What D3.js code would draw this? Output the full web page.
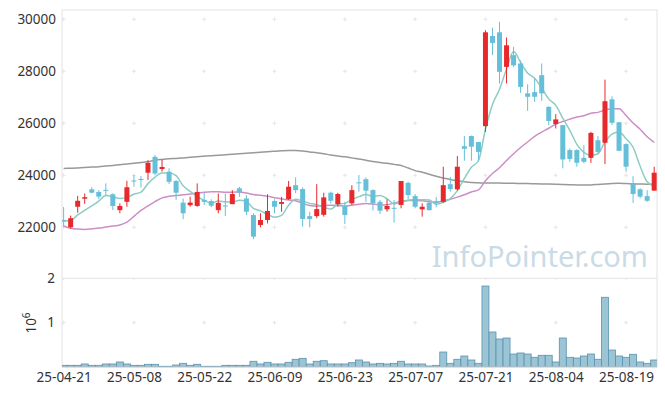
<!DOCTYPE html>
<html>
<head>
<meta charset="utf-8">
<script src="https://cdn.jsdelivr.net/npm/d3@7"></script>
<style>
  body { margin: 0; background: #fff; }
  svg { display: block; font-family: "Noto Sans", "Open Sans", sans-serif; }
</style>
</head>
<body>
<div id="chart"></div>
<script>
const width = 665,
  height = 396;

// trading days
const dates = ["25-04-21","25-04-22","25-04-23","25-04-24","25-04-25","25-04-28","25-04-29","25-04-30","25-05-02","25-05-07",
  "25-05-08","25-05-09","25-05-12","25-05-13","25-05-14","25-05-15","25-05-16","25-05-19","25-05-20","25-05-21",
  "25-05-22","25-05-23","25-05-26","25-05-27","25-05-28","25-05-29","25-05-30","25-06-02","25-06-04","25-06-05",
  "25-06-09","25-06-10","25-06-11","25-06-12","25-06-13","25-06-16","25-06-17","25-06-18","25-06-19","25-06-20",
  "25-06-23","25-06-24","25-06-25","25-06-26","25-06-27","25-06-30","25-07-01","25-07-02","25-07-03","25-07-04",
  "25-07-07","25-07-08","25-07-09","25-07-10","25-07-11","25-07-14","25-07-15","25-07-16","25-07-17","25-07-18",
  "25-07-21","25-07-22","25-07-23","25-07-24","25-07-25","25-07-28","25-07-29","25-07-30","25-07-31","25-08-01",
  "25-08-04","25-08-05","25-08-06","25-08-07","25-08-08","25-08-11","25-08-12","25-08-13","25-08-14","25-08-18",
  "25-08-19","25-08-20","25-08-21","25-08-22","25-08-25"];

const open = [22280,22000,22790,23100,23460,23360,23440,23270,22660,22980,
  23800,23860,24100,24710,24240,24140,23780,22950,22850,22820,
  23050,23010,22660,22840,22890,23500,23110,22470,22090,22280,
  23010,22900,23080,23620,23470,22430,22430,22480,23330,22890,
  22820,22920,23730,23850,23430,22980,22690,22750,22860,23710,
  23200,22690,22940,23000,22980,23660,23460,25120,25510,25280,
  25890,29360,29500,28170,28620,28300,27150,27200,27850,26630,
  25970,25930,24970,24970,24670,24670,25350,25250,26920,26040,
  25200,23690,23460,23200,23410];

const high = [22780,22450,23210,23300,23540,23430,23690,23310,22920,23790,
  24010,23970,24580,24780,24610,24270,23820,23110,23180,23690,
  23320,23080,23300,23300,23430,23560,23240,22540,22540,23270,
  23080,23170,23780,23920,23540,22600,23660,23330,23370,23330,
  22980,23620,24010,23920,23460,23050,23080,23050,23780,23750,
  23280,22920,22980,23170,24330,23940,24740,25510,25530,25290,
  29580,29680,29900,29300,28940,28420,27500,27720,28300,26660,
  26350,25930,25030,25000,25160,25670,25510,27680,27040,26050,
  25230,23970,23500,23430,24330];

const low = [22010,21950,22560,22900,23310,23080,23240,22660,22540,22790,
  23560,23530,23820,24000,24140,23660,23050,22310,22790,22790,
  22860,22770,22540,22430,22890,23170,22470,21540,22000,22150,
  22540,22600,23050,23310,22020,22000,22350,22410,22920,22790,
  22130,22860,23370,22980,22640,22510,22600,22180,22730,23080,
  22730,22410,22640,22770,22940,23370,23410,24560,24560,24560,
  25670,28620,27530,27530,28170,27170,26480,26820,26860,25930,
  25800,24270,24520,24330,24460,24480,24840,24430,25930,24940,
  24140,22940,23110,22980,23410];

const close = [22220,22350,23020,23160,23330,23180,23400,22820,22820,23540,
  23760,23820,24480,24070,24320,23750,23330,22540,22950,23360,
  22980,22830,22940,22800,23280,23330,22600,21640,22280,22630,
  22790,22970,23560,23430,22320,22320,22700,23150,23020,23280,
  22470,23430,23700,23410,22920,22640,22820,22710,23780,23240,
  22790,22790,22660,22950,23620,23470,24330,25020,25100,24900,
  29500,29090,27980,29000,28230,27400,27020,27020,27150,26090,
  26150,24610,24630,24480,24520,25630,24900,26850,26020,24940,
  24330,23280,23180,23020,24100];

const volume = [38000,38000,38000,68000,38000,38000,68000,68000,113000,68000,
  38000,38000,61000,61000,16000,16000,45000,83000,38000,61000,
  16000,16000,16000,38000,38000,38000,38000,129000,68000,106000,
  68000,68000,106000,174000,196000,68000,129000,142000,68000,68000,
  68000,97000,158000,113000,68000,83000,68000,83000,129000,68000,
  68000,68000,23000,38000,338000,83000,174000,248000,158000,83000,
  1826000,789000,631000,654000,293000,316000,293000,219000,264000,264000,
  113000,654000,219000,203000,248000,293000,174000,1572000,383000,248000,
  219000,286000,113000,83000,158000];

// moving averages as shown on the chart
const ma5 = [22250,22260,22480,22650,22820,23010,23220,23180,23110,23150,
  23270,23350,23680,23930,24090,24090,23990,23600,23380,23190,
  23030,22930,23010,22980,22970,23040,22990,22730,22630,22500,
  22390,22460,22850,23080,23010,22920,22870,22780,22700,22890,
  22920,23070,23180,23260,23190,23220,23100,22900,22970,23040,
  23070,23060,23050,22890,22960,23100,23410,23880,24310,24560,
  25770,26720,27310,28090,28760,28340,27930,27730,27360,26940,
  26690,26200,25730,25190,24880,24770,24830,25280,25580,25670,
  25410,25080,24350,23750,23580];

const ma20 = [22050,21960,21930,21920,21940,21970,22010,22050,22090,22200,
  22420,22650,22820,22990,23130,23190,23220,23250,23280,23310,
  23350,23370,23370,23350,23350,23360,23320,23260,23230,23190,
  23140,23090,23050,23020,22920,22840,22810,22840,22850,22840,
  22820,22850,22890,22920,22900,22860,22870,22930,23000,23030,
  23030,23020,22980,22960,23020,23080,23160,23250,23360,23440,
  23790,24070,24290,24570,24830,25070,25280,25500,25660,25810,
  25970,26070,26160,26240,26290,26390,26420,26510,26560,26560,
  26300,26010,25770,25480,25270];

const ma120 = [24265,24275,24285,24300,24315,24330,24355,24380,24405,24430,
  24460,24495,24530,24580,24610,24635,24650,24670,24690,24715,
  24735,24755,24770,24790,24810,24830,24850,24870,24890,24910,
  24925,24940,24950,24950,24935,24900,24870,24830,24780,24740,
  24710,24670,24630,24580,24530,24490,24460,24420,24380,24280,
  24180,24120,24040,23960,23900,23840,23790,23750,23720,23710,
  23700,23700,23700,23695,23690,23685,23680,23675,23670,23665,
  23660,23650,23640,23630,23625,23630,23650,23670,23685,23690,
  23680,23670,23665,23660,23660];

const priceTicks = [22000, 24000, 26000, 28000, 30000];
const volTicks = [1e6, 2e6];
const dateTicks = [0, 10, 20, 30, 40, 50, 60, 70, 80];

const mLeft = 62, mRight = 657, mTop = 10, mSplit = 278.3, mBottom = 367;

const x = d3.scaleLinear().domain([-0.23, 84.4]).range([mLeft, mRight]);
const y = d3.scaleLinear().domain([22000, 30000]).range([227.3, 19.3]);
const yv = d3.scaleLinear().domain([0, 2e6]).range([mBottom, mSplit]);

const svg = d3.select("#chart").append("svg")
  .attr("width", width)
  .attr("height", height);

svg.append("defs").append("clipPath").attr("id", "clip")
  .append("rect").attr("x", mLeft).attr("y", mTop).attr("width", mRight - mLeft).attr("height", mBottom - mTop);

// frame
svg.append("rect")
  .attr("x", mLeft).attr("y", mTop).attr("width", mRight - mLeft).attr("height", mBottom - mTop)
  .attr("fill", "none").attr("stroke", "#e3e3e3");
svg.append("line")
  .attr("x1", mLeft).attr("x2", mRight).attr("y1", mSplit).attr("y2", mSplit)
  .attr("stroke", "#e3e3e3");

// grid crosses
const crosses = svg.append("g").attr("stroke", "#e6e6e6");
dateTicks.forEach(d => {
  priceTicks.forEach(p => {
    crosses.append("path").attr("d", `M${x(d) - 2},${y(p)}h4M${x(d)},${y(p) - 2}v4`);
  });
  crosses.append("path").attr("d", `M${x(d) - 2},${yv(1e6)}h4M${x(d)},${yv(1e6) - 2}v4`);
  crosses.append("path").attr("d", `M${x(d)},${mSplit}v2`);
});

// watermark
svg.append("text")
  .attr("x", 648).attr("y", 267)
  .attr("text-anchor", "end")
  .attr("font-size", 29)
  .attr("fill", "#c9dbe5")
  .text("InfoPointer.com");

const plot = svg.append("g").attr("clip-path", "url(#clip)");

// volume bars
plot.selectAll("rect.vol")
  .data(volume)
  .join("rect")
  .attr("class", "vol")
  .attr("x", (d, i) => x(i) - 3.5)
  .attr("width", 7)
  .attr("y", d => yv(d))
  .attr("height", d => yv(0) - yv(d))
  .attr("fill", "#9bc4d4")
  .attr("stroke", "#5a93b0")
  .attr("stroke-width", 0.8);

// moving averages
const line = d3.line().x((d, i) => x(i)).y(d => y(d)).curve(d3.curveMonotoneX);
plot.append("path").datum(ma120).attr("d", line)
  .attr("fill", "none").attr("stroke", "#999").attr("stroke-width", 1.5);
plot.append("path").datum(ma20).attr("d", line)
  .attr("fill", "none").attr("stroke", "#cc8ec6").attr("stroke-width", 1.5);
plot.append("path").datum(ma5).attr("d", line)
  .attr("fill", "none").attr("stroke", "#8ccdc2").attr("stroke-width", 1.5);

// candles
const up = "#e8292c", down = "#66bfd9";
const candles = plot.selectAll("g.candle")
  .data(dates.map((d, i) => i))
  .join("g")
  .attr("class", "candle");

candles.append("line")
  .attr("x1", i => x(i)).attr("x2", i => x(i))
  .attr("y1", i => y(high[i])).attr("y2", i => y(low[i]))
  .attr("stroke", i => close[i] >= open[i] ? up : down)
  .attr("stroke-width", 1);

candles.append("rect")
  .attr("x", i => x(i) - 2.5)
  .attr("width", 5)
  .attr("y", i => y(Math.max(open[i], close[i])))
  .attr("height", i => Math.max(1, Math.abs(y(open[i]) - y(close[i]))))
  .attr("fill", i => close[i] >= open[i] ? up : down);

// axes
const yAxis = svg.append("g")
  .attr("transform", `translate(${mLeft},0)`)
  .call(d3.axisLeft(y).tickValues(priceTicks).tickSize(0).tickPadding(6).tickFormat(d3.format("d")));

const vAxis = svg.append("g")
  .attr("transform", `translate(${mLeft},0)`)
  .call(d3.axisLeft(yv).tickValues(volTicks).tickSize(0).tickPadding(7).tickFormat(d => d / 1e6));

const xAxis = svg.append("g")
  .attr("transform", `translate(0,${mBottom})`)
  .call(d3.axisBottom(x).tickValues(dateTicks).tickSize(0).tickPadding(5).tickFormat(d => dates[d]));

[yAxis, vAxis, xAxis].forEach(g => {
  g.select(".domain").remove();
  g.selectAll("text").attr("font-size", 13.5).attr("fill", "#333").attr("font-family", "Noto Sans, sans-serif");
});

svg.append("line")
  .attr("x1", mLeft).attr("x2", mRight).attr("y1", mBottom).attr("y2", mBottom)
  .attr("stroke", "#cfcfcf");

// exponent label
const expo = svg.append("text")
  .attr("transform", "translate(36,323) rotate(-90)")
  .attr("text-anchor", "middle")
  .attr("font-size", 13.5)
  .attr("fill", "#333");
expo.append("tspan").text("10");
expo.append("tspan").attr("dy", -6).attr("font-size", 10).text("6");
</script>
</body>
</html>
